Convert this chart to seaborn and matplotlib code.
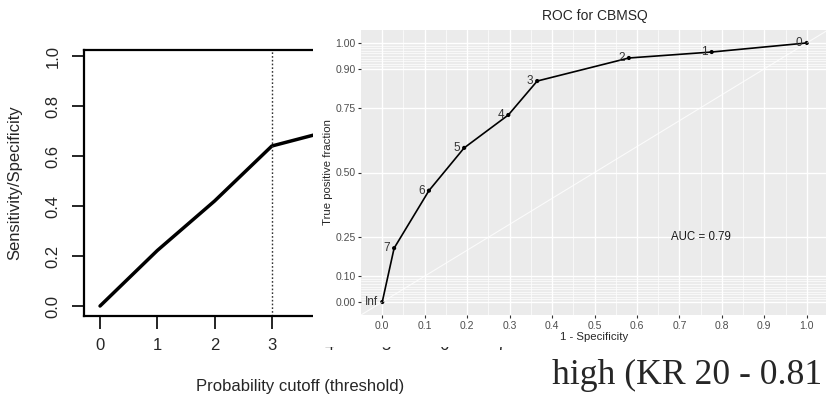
import numpy as np
import matplotlib.pyplot as plt
import matplotlib as mpl
import seaborn as sns
from matplotlib.patches import Rectangle

sns.set_style('white')
mpl.rcParams['font.family'] = ['Liberation Sans', 'DejaVu Sans']

# ROC points (labels are the cutoffs)
cut_labels = ['Inf', '7', '6', '5', '4', '3', '2', '1', '0']
fpr = [0.0, 0.028, 0.11, 0.193, 0.297, 0.365, 0.581, 0.776, 1.0]
tpr = [0.0, 0.208, 0.43, 0.595, 0.722, 0.853, 0.942, 0.965, 1.0]
auc_text = 'AUC = 0.79'

# left panel: specificity vs cutoff (partly hidden)
spec_cut = [0, 1, 2, 3, 4]
spec_val = [0.0, 0.222, 0.42, 0.64, 0.70]
best_cut = 3
left_xticks = [0, 1, 2, 3, 4, 5, 6, 7]
left_yticks = [0.0, 0.2, 0.4, 0.6, 0.8, 1.0]

roc_xticks = [0.0, 0.1, 0.2, 0.3, 0.4, 0.5, 0.6, 0.7, 0.8, 0.9, 1.0]
roc_xminor = [0.05, 0.15, 0.25, 0.35, 0.45, 0.55, 0.65, 0.75, 0.85, 0.95]
roc_yticks = [0.0, 0.1, 0.25, 0.5, 0.75, 0.9, 1.0]
roc_yminor = [0.01, 0.02, 0.03, 0.04, 0.05, 0.06, 0.07, 0.08, 0.09,
              0.91, 0.92, 0.93, 0.94, 0.95, 0.96, 0.97, 0.98, 0.99]

W, H = 826, 399
fig = plt.figure(figsize=(W / 100, H / 100), dpi=100)


def box(l, t, r, b):
    return [l / W, 1 - b / H, (r - l) / W, (b - t) / H]


# ---- left (base R look) ----
ax1 = fig.add_axes(box(84, 50, 517, 316))
ax1.set_zorder(0)
sns.lineplot(x=spec_cut, y=spec_val, ax=ax1, color='black', lw=2.5)
ax1.axvline(best_cut, color='#333333', ls=(0, (1.2, 1.5)), lw=1.0)
ax1.set_xlim(-0.28, 7.28)
ax1.set_ylim(-0.04, 1.024)
ax1.set_xticks(left_xticks)
ax1.set_xticklabels([str(t) for t in left_xticks])
ax1.set_yticks(left_yticks)
ax1.set_yticklabels(['%.1f' % t for t in left_yticks], rotation=90, va='center')
ax1.tick_params(axis='both', length=9, width=1.2, color='black', labelsize=12,
                left=True, bottom=True)
ax1.tick_params(axis='y', pad=8)
ax1.tick_params(axis='x', pad=7)
for s in ['top', 'left', 'bottom']:
    ax1.spines[s].set_linewidth(1.6)
    ax1.spines[s].set_color('black')
ax1.spines['right'].set_visible(False)
ax1.set_xlabel('Probability cutoff (threshold)', fontsize=12, va='center')
ax1.xaxis.set_label_coords(0.5, -(386 - 316) / 266)
ax1.set_ylabel('Sensitivity/Specificity', fontsize=12, va='center')
ax1.yaxis.set_label_coords((15 - 84) / 433, 0.5)

# white background of the pasted ROC image
fig.add_artist(Rectangle((313 / W, 1 - 347 / H), (W - 313) / W, 347 / H,
                         transform=fig.transFigure, facecolor='white',
                         edgecolor='none', zorder=1))

# ---- right (ggplot ROC look) ----
ax2 = fig.add_axes(box(361, 30, 828, 315))
ax2.set_zorder(2)
ax2.set_facecolor('#EBEBEB')
ax2.set_xlim(-0.05, 1.05)
ax2.set_ylim(-0.05, 1.05)
ax2.set_xticks(roc_xticks)
ax2.set_xticklabels(['%.1f' % t for t in roc_xticks])
ax2.set_xticks(roc_xminor, minor=True)
ax2.set_yticks(roc_yticks)
ax2.set_yticklabels(['%.2f' % t for t in roc_yticks])
ax2.set_yticks(roc_yminor, minor=True)
ax2.grid(which='major', color='white', lw=1.0)
ax2.grid(which='minor', color='white', lw=0.5)
ax2.set_axisbelow(True)
for s in ax2.spines.values():
    s.set_visible(False)
ax2.tick_params(which='major', length=2.5, width=0.8, color='#333333',
                labelsize=7.5, labelcolor='#4D4D4D', pad=1.5,
                left=True, bottom=True)
ax2.tick_params(which='minor', length=0)

ax2.axline((0, 0), slope=1, color='white', alpha=0.8, lw=0.8)
sns.lineplot(x=fpr, y=tpr, ax=ax2, color='black', lw=1.2, sort=False)
sns.scatterplot(x=fpr, y=tpr, ax=ax2, color='black', s=9, edgecolor='none')
for lab, x, y in zip(cut_labels, fpr, tpr):
    ax2.annotate(lab, (x, y), xytext=(-3, 0), textcoords='offset points',
                 ha='right', va='center', fontsize=8.5, color='#333333')
ax2.text(0.75, 0.25, auc_text, ha='center', va='center', fontsize=8.3,
         color='#1a1a1a')

ax2.set_title('ROC for CBMSQ', fontsize=10, pad=7)
ax2.set_xlabel('1 - Specificity', fontsize=8.2, va='center')
ax2.xaxis.set_label_coords((594 - 361) / 467, -(337 - 315) / 285)
ax2.set_ylabel('True positive fraction', fontsize=8.2, va='center')
ax2.yaxis.set_label_coords((328 - 361) / 467, 0.5)

fig.text(552 / W, 1 - 375 / H, 'high (KR 20 - 0.81', family=['Liberation Serif'],
         fontsize=25.7, ha='left', va='center', zorder=3)

fig.savefig('out.png', dpi=100)
